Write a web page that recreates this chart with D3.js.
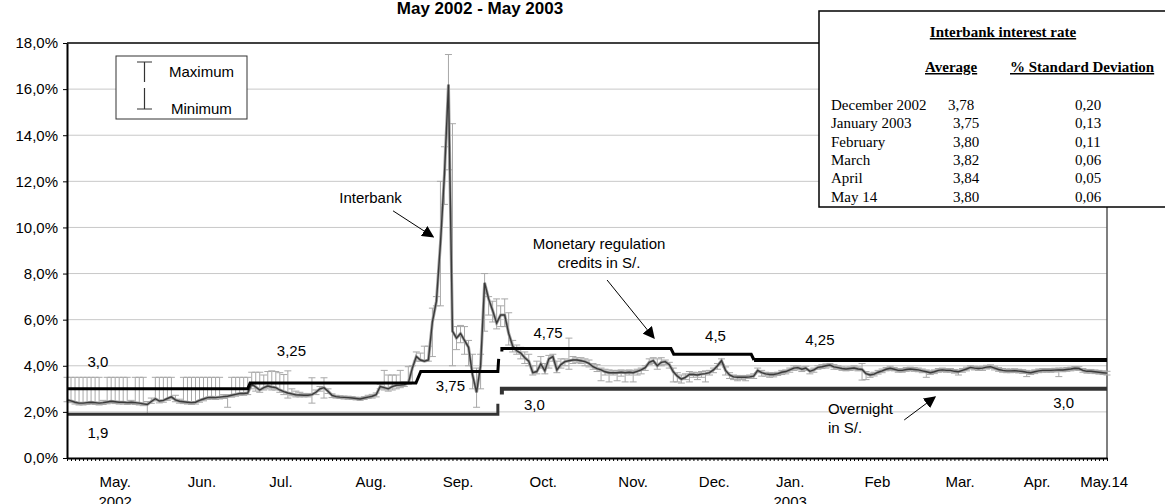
<!DOCTYPE html>
<html>
<head>
<meta charset="utf-8">
<script src="https://cdn.jsdelivr.net/npm/d3@7"></script>
<style>
  body { margin: 0; background: #fff; }
  svg { display: block; font-family: "Liberation Sans", Arial, sans-serif; }
</style>
</head>
<body>
<div id="chart"></div>
<script>
// daily interbank rate (%), one value per business day, May 2002 - May 14 2003
var avgRate = [
  2.52,2.48,2.42,2.38,2.38,2.40,2.42,2.40,2.38,2.40,
  2.43,2.46,2.44,2.42,2.42,2.40,2.42,2.40,2.38,2.35,
  2.32,2.45,2.57,2.47,2.50,2.58,2.65,2.52,2.46,2.44,
  2.42,2.40,2.42,2.50,2.56,2.62,2.63,2.62,2.64,2.66,
  2.68,2.72,2.76,2.80,2.80,2.82,3.20,3.08,2.95,3.05,
  3.12,3.08,3.05,2.95,2.88,2.82,2.78,2.74,2.73,2.72,
  2.72,2.75,2.85,3.00,3.05,2.90,2.72,2.66,2.64,2.63,
  2.62,2.60,2.58,2.56,2.60,2.64,2.68,2.75,3.10,3.05,
  3.00,3.10,3.15,3.16,3.18,3.25,3.90,4.40,4.25,4.20,
  4.25,5.90,6.80,9.30,12.30,16.20,5.50,5.20,5.40,5.10,
  4.80,3.60,2.85,4.00,7.60,6.90,6.40,5.85,6.20,6.20,
  5.40,4.85,4.65,4.55,4.35,4.20,3.70,3.75,4.08,3.78,
  4.30,4.40,3.82,4.05,4.18,4.22,4.25,4.25,4.22,4.18,
  4.10,3.96,3.88,3.82,3.74,3.70,3.70,3.70,3.72,3.70,
  3.72,3.70,3.76,3.82,3.92,4.15,4.22,4.00,4.15,4.18,
  4.05,3.74,3.55,3.42,3.50,3.62,3.62,3.60,3.64,3.66,
  3.70,3.82,4.00,4.22,3.80,3.60,3.52,3.50,3.50,3.50,
  3.52,3.55,3.80,3.70,3.65,3.62,3.62,3.66,3.72,3.75,
  3.82,3.90,3.92,3.85,3.90,3.76,3.82,3.93,3.96,4.00,
  4.03,3.95,3.92,3.88,3.86,3.88,3.90,3.86,3.84,3.66,
  3.60,3.64,3.72,3.78,3.85,3.89,3.85,3.80,3.80,3.84,
  3.86,3.84,3.82,3.78,3.74,3.70,3.74,3.80,3.82,3.80,
  3.80,3.76,3.74,3.80,3.86,3.93,3.90,3.88,3.90,3.94,
  3.96,3.90,3.84,3.80,3.78,3.78,3.79,3.77,3.75,3.72,
  3.70,3.74,3.78,3.80,3.80,3.80,3.81,3.82,3.82,3.84,
  3.86,3.89,3.88,3.80,3.76,3.76,3.74,3.72,3.70,3.68
];
var maxRate = [
  3.5,3.5,3.5,3.5,3.5,3.5,3.5,3.5,3.5,2.5,
  3.5,3.5,3.5,3.5,3.5,3.5,2.5,3.5,3.5,3.5,
  2.45,2.6,3.5,3.5,3.5,3.5,3.5,2.72,2.55,3.5,
  3.5,3.5,3.5,3.5,3.5,3.5,3.5,3.5,3.5,2.75,
  2.75,3.5,3.5,3.5,3.5,3.5,3.72,3.72,3.72,3.6,
  3.75,3.78,3.75,3.7,3.62,3.78,3.0,2.9,2.85,2.8,
  2.8,3.48,2.95,3.1,3.48,3.0,2.78,2.72,2.7,2.68,
  2.68,2.66,2.64,2.62,2.66,2.72,2.76,2.82,3.2,3.8,
  3.6,3.6,3.6,3.8,3.3,3.96,4.0,4.6,4.55,4.85,
  4.85,6.5,7.0,12.0,13.5,17.5,14.5,5.7,5.75,5.7,
  5.1,4.5,3.9,4.5,8.0,7.0,6.8,6.9,6.6,6.9,
  6.3,5.1,4.9,4.8,4.6,4.5,4.0,4.2,4.4,4.1,
  4.45,4.5,4.2,4.3,4.3,5.2,4.4,4.35,4.35,4.3,
  4.25,4.1,4.05,3.9,3.85,3.82,3.8,3.8,3.82,3.8,
  3.82,3.8,3.85,3.9,4.0,4.3,4.35,4.3,4.35,4.25,
  4.15,3.9,3.7,3.6,3.65,3.75,3.72,3.7,3.75,3.78,
  3.8,3.9,4.1,4.3,3.95,3.7,3.6,3.58,3.58,3.58,
  3.6,3.65,3.9,3.8,3.72,3.7,3.7,3.72,3.8,3.82,
  3.9,4.0,4.0,3.95,3.98,3.85,3.9,4.0,4.05,4.08,
  4.1,4.05,4.0,3.95,3.94,3.95,4.0,3.95,4.1,3.75,
  3.68,3.72,3.8,3.86,3.92,3.98,3.92,3.88,3.88,3.92,
  3.94,3.92,3.9,3.86,3.82,3.78,3.82,3.88,3.9,3.88,
  3.88,3.84,3.82,3.88,3.94,4.0,3.98,3.96,3.98,4.02,
  4.04,3.98,3.92,3.88,3.86,3.86,3.87,3.85,3.83,3.8,
  3.78,3.82,3.86,3.88,3.88,3.88,3.89,3.9,3.9,3.92,
  3.94,3.97,3.96,3.88,3.84,3.84,3.82,3.8,3.78,3.76
];
var minRate = [
  2.44,2.4,2.34,2.3,2.3,2.32,2.34,2.32,2.3,2.32,
  2.35,2.38,2.36,2.34,2.34,2.32,2.34,2.32,2.3,2.27,
  1.9,2.37,2.48,2.39,2.42,2.5,2.56,2.44,2.38,2.36,
  2.34,2.32,2.34,2.42,2.48,2.54,2.55,2.54,2.56,2.58,
  2.2,2.64,2.68,2.72,2.72,2.75,3.0,2.9,2.85,2.95,
  3.0,2.95,2.95,2.85,2.75,2.6,2.7,2.65,2.65,2.65,
  2.65,2.38,2.75,2.9,2.6,2.8,2.62,2.6,2.58,2.56,
  2.55,2.54,2.52,2.5,2.54,2.58,2.6,2.65,3.0,2.95,
  2.9,2.95,3.0,3.05,3.1,3.2,3.25,4.2,4.2,4.2,
  4.2,4.4,6.6,6.6,11.0,12.5,4.0,4.7,5.0,4.5,
  4.0,3.0,2.2,3.0,5.5,6.2,5.9,5.6,5.7,5.7,
  4.9,4.6,4.5,4.3,4.1,4.0,3.6,3.65,3.9,3.65,
  3.9,4.2,3.7,3.9,4.0,3.85,4.1,4.15,4.1,4.0,
  3.95,3.85,3.75,3.35,3.6,3.3,3.6,3.35,3.55,3.3,
  3.6,3.3,3.6,3.65,3.8,4.05,4.1,3.85,4.0,4.05,
  3.9,3.3,3.3,3.25,3.4,3.3,3.5,3.4,3.5,3.3,
  3.6,3.7,3.85,4.05,3.6,3.45,3.4,3.35,3.4,3.35,
  3.45,3.45,3.7,3.55,3.55,3.5,3.52,3.58,3.62,3.65,
  3.72,3.8,3.82,3.75,3.8,3.65,3.72,3.85,3.88,3.9,
  3.95,3.85,3.85,3.8,3.78,3.8,3.82,3.78,3.38,3.4,
  3.5,3.56,3.64,3.7,3.78,3.8,3.78,3.72,3.72,3.76,
  3.78,3.76,3.74,3.7,3.5,3.62,3.66,3.72,3.74,3.72,
  3.72,3.68,3.6,3.72,3.78,3.86,3.82,3.8,3.8,3.86,
  3.88,3.82,3.76,3.72,3.7,3.7,3.71,3.69,3.67,3.53,
  3.62,3.66,3.7,3.72,3.72,3.72,3.73,3.53,3.74,3.76,
  3.78,3.81,3.8,3.72,3.68,3.68,3.66,3.64,3.62,3.6
];

// monetary regulation credits rate (day index -> %)
var creditDay1 = [0, 45, 45.6, 86.9, 88.1, 107.3, 107.5];
var creditRate1 = [3.0, 3.0, 3.25, 3.25, 3.75, 3.75, 4.3];
var creditDay2 = [108.3, 108.3, 150.4, 151.1, 170.4, 171.1];
var creditRate2 = [4.62, 4.75, 4.75, 4.5, 4.5, 4.25];
var creditDay3 = [171.1, 259];
var creditRate3 = [4.25, 4.25];
// overnight deposit rate
var overnightDay1 = [0, 107.3, 107.3];
var overnightRate1 = [1.9, 1.9, 2.35];
var overnightDay2 = [108.3, 108.3, 259];
var overnightRate2 = [2.75, 3.0, 3.0];

var monthNames = ["May.", "Jun.", "Jul.", "Aug.", "Sep.", "Oct.", "Nov.", "Dec.", "Jan.", "Feb", "Mar.", "Apr.", "May.14"];
var monthDay = [12, 33.6, 53.3, 75.7, 97.4, 118.6, 141, 161.2, 180.1, 201.8, 222.4, 241.6, 258.3];
var yearNames = ["2002", "2003"];
var yearDay = [12, 180.1];
var yTicks = [0, 2, 4, 6, 8, 10, 12, 14, 16, 18];

// step labels: text, day, rate position
var stepLabels = ["3,0", "1,9", "3,25", "3,75", "4,75", "3,0", "4,5", "4,25", "3,0"];
var stepLabelDay = [7.7, 7.7, 55.9, 95.5, 119.8, 116.4, 161.5, 187.5, 248.2];
var stepLabelRate = [4.16, 1.11, 4.64, 3.12, 5.43, 2.30, 5.32, 5.15, 2.40];

// table
var tableMonths = ["December 2002", "January 2003", "February", "March", "April", "May 14"];
var tableAvg = ["3,78", "3,75", "3,80", "3,82", "3,84", "3,80"];
var tableStd = ["0,20", "0,13", "0,11", "0,06", "0,05", "0,06"];

var W = 1165, H = 504;
var svg = d3.select("#chart").append("svg").attr("width", W).attr("height", H);

var x = d3.scaleLinear().domain([0, avgRate.length - 1]).range([67, 1107]);
var y = d3.scaleLinear().domain([0, 18]).range([458, 43]);

// title
svg.append("text")
  .attr("x", 480).attr("y", 14)
  .attr("text-anchor", "middle")
  .attr("font-size", "17px").attr("font-weight", "bold")
  .text("May 2002 - May 2003");

// gridlines
svg.append("g").selectAll("line")
  .data(yTicks.filter(function(d) { return d > 0 && d < 18; }))
  .enter().append("line")
  .attr("x1", x(0)).attr("x2", x(avgRate.length - 1))
  .attr("y1", function(d) { return y(d); })
  .attr("y2", function(d) { return y(d); })
  .attr("stroke", "#c8c8c8").attr("stroke-width", 1);

// plot frame top / right
svg.append("line").attr("x1", 67).attr("x2", 1107).attr("y1", y(18)).attr("y2", y(18))
  .attr("stroke", "#000").attr("stroke-width", 1.5);
svg.append("line").attr("x1", 1107).attr("x2", 1107).attr("y1", y(18)).attr("y2", y(0))
  .attr("stroke", "#555").attr("stroke-width", 1.5);

// error bars (max / min)
var bars = svg.append("g").attr("stroke", "#a8a8a8").attr("stroke-width", 1);
avgRate.forEach(function(d, i) {
  var cx = x(i);
  bars.append("line").attr("x1", cx).attr("x2", cx).attr("y1", y(maxRate[i])).attr("y2", y(minRate[i]));
  bars.append("line").attr("x1", cx - 3.5).attr("x2", cx + 3.5).attr("y1", y(maxRate[i])).attr("y2", y(maxRate[i]));
  bars.append("line").attr("x1", cx - 3.5).attr("x2", cx + 3.5).attr("y1", y(minRate[i])).attr("y2", y(minRate[i]));
});

// interbank line
var line = d3.line().x(function(d, i) { return x(i); }).y(function(d) { return y(d); });
svg.append("path").datum(avgRate).attr("d", line)
  .attr("fill", "none").attr("stroke", "#a2a2a2").attr("stroke-width", 3);
svg.append("path").datum(avgRate).attr("d", line)
  .attr("fill", "none").attr("stroke", "#3a3a3a").attr("stroke-width", 1.4);

// step lines
var stepLine = d3.line().x(function(d) { return x(d[0]); }).y(function(d) { return y(d[1]); });
function drawStep(days, rates, color, width) {
  svg.append("path").datum(d3.zip(days, rates)).attr("d", stepLine)
    .attr("fill", "none").attr("stroke", color).attr("stroke-width", width);
}
drawStep(creditDay1, creditRate1, "#000", 3);
drawStep(creditDay2, creditRate2, "#000", 3);
drawStep(creditDay3, creditRate3, "#000", 4);
drawStep(overnightDay1, overnightRate1, "#333", 3);
drawStep(overnightDay2, overnightRate2, "#333", 4);

// y axis
var yAxis = svg.append("g").attr("transform", "translate(67,0)")
  .call(d3.axisLeft(y).tickValues(yTicks).tickSize(4).tickSizeOuter(0)
    .tickFormat(function(d) { return d.toFixed(1).replace(".", ",") + "%"; }));
yAxis.select(".domain").attr("stroke", "#000").attr("stroke-width", 2);
yAxis.selectAll(".tick line").attr("stroke", "#000");
yAxis.selectAll(".tick text").attr("font-size", "15px").attr("fill", "#000")
  .attr("font-family", "Liberation Sans, Arial, sans-serif").attr("x", -9);

// x axis with one tick per day
var xAxis = svg.append("g").attr("transform", "translate(0," + y(0) + ")")
  .call(d3.axisBottom(x).tickValues(d3.range(avgRate.length)).tickSize(3).tickSizeOuter(0).tickFormat(""));
xAxis.select(".domain").attr("stroke", "#000").attr("stroke-width", 2);
xAxis.selectAll(".tick line").attr("stroke", "#000").attr("stroke-width", 1);

svg.append("g").selectAll("text").data(monthNames).enter().append("text")
  .attr("x", function(d, i) { return x(monthDay[i]); })
  .attr("y", 487).attr("text-anchor", "middle").attr("font-size", "15px")
  .text(function(d) { return d; });
svg.append("g").selectAll("text").data(yearNames).enter().append("text")
  .attr("x", function(d, i) { return x(yearDay[i]); })
  .attr("y", 507).attr("text-anchor", "middle").attr("font-size", "15px")
  .text(function(d) { return d; });

// step value labels
svg.append("g").selectAll("text").data(stepLabels).enter().append("text")
  .attr("x", function(d, i) { return x(stepLabelDay[i]); })
  .attr("y", function(d, i) { return y(stepLabelRate[i]); })
  .attr("dy", "0.35em").attr("text-anchor", "middle").attr("font-size", "15px")
  .text(function(d) { return d; });

// arrows
svg.append("defs").append("marker")
  .attr("id", "head").attr("viewBox", "0 0 10 10").attr("refX", 9).attr("refY", 5)
  .attr("markerWidth", 12).attr("markerHeight", 12).attr("markerUnits", "userSpaceOnUse")
  .attr("orient", "auto")
  .append("path").attr("d", "M0,0L10,5L0,10z").attr("fill", "#000");

function arrow(d0, r0, d1, r1) {
  svg.append("line").attr("x1", x(d0)).attr("y1", y(r0)).attr("x2", x(d1)).attr("y2", y(r1))
    .attr("stroke", "#000").attr("stroke-width", 1).attr("marker-end", "url(#head)");
}
function note(lines, day, rate, anchor) {
  var t = svg.append("text").attr("x", x(day)).attr("y", y(rate))
    .attr("text-anchor", anchor).attr("font-size", "15px");
  lines.forEach(function(s, k) {
    t.append("tspan").attr("x", x(day)).attr("dy", k === 0 ? "0.35em" : "1.27em").text(s);
  });
}
note(["Interbank"], 67.8, 11.27, "start");
arrow(81.2, 10.72, 91.2, 9.59);
note(["Monetary regulation", "credits in S/."], 132.5, 9.31, "middle");
arrow(134.5, 7.72, 146.2, 5.2);
note(["Overnight", "in S/."], 189.5, 2.12, "start");
arrow(208.5, 1.65, 216.2, 2.65);

// legend
var lg = svg.append("g");
lg.append("rect").attr("x", 116).attr("y", 56).attr("width", 131).attr("height", 63)
  .attr("fill", "#fff").attr("stroke", "#333").attr("stroke-width", 1);
lg.append("path").attr("d", "M137,62H152M144.5,62V82M144.5,88V109M137,109H152")
  .attr("fill", "none").attr("stroke", "#333").attr("stroke-width", 1.2);
lg.append("text").attr("x", 169).attr("y", 77).attr("font-size", "15px").text("Maximum");
lg.append("text").attr("x", 171).attr("y", 114).attr("font-size", "15px").text("Minimum");

// table box
var tb = svg.append("g").attr("font-family", "Liberation Serif, Times New Roman, serif");
tb.append("rect").attr("x", 819).attr("y", 11).attr("width", 400).attr("height", 196)
  .attr("fill", "#fff").attr("stroke", "#000").attr("stroke-width", 1.5);
tb.append("text").attr("x", 1003).attr("y", 37).attr("text-anchor", "middle")
  .attr("font-size", "15px").attr("font-weight", "bold").style("text-decoration", "underline")
  .text("Interbank interest rate");
tb.append("text").attr("x", 925).attr("y", 72)
  .attr("font-size", "15px").attr("font-weight", "bold").style("text-decoration", "underline")
  .text("Average");
tb.append("text").attr("x", 1010).attr("y", 72)
  .attr("font-size", "15px").attr("font-weight", "bold").style("text-decoration", "underline")
  .text("% Standard Deviation");
tableMonths.forEach(function(m, k) {
  var by = 110 + k * 18.3;
  tb.append("text").attr("x", 831).attr("y", by).attr("font-size", "15px").text(m);
  tb.append("text").attr("x", k === 0 ? 948 : 953).attr("y", by).attr("font-size", "15px").text(tableAvg[k]);
  tb.append("text").attr("x", 1075).attr("y", by).attr("font-size", "15px").text(tableStd[k]);
});
</script>
</body>
</html>
